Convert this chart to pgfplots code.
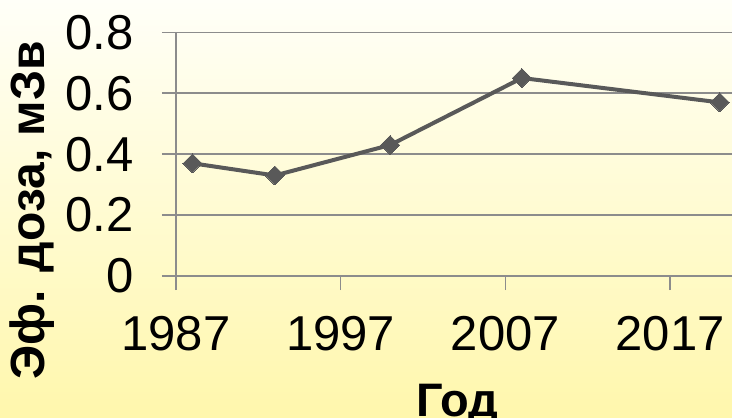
\documentclass[border=0pt]{standalone}
\usepackage{fontspec}
\setmainfont{Liberation Sans}
\usepackage{pgfplots}
\pgfplotsset{compat=1.18}
\definecolor{bgtop}{RGB}{255,255,248}
\definecolor{bgbot}{RGB}{255,247,172}
\definecolor{gridc}{RGB}{140,140,140}
\definecolor{linec}{RGB}{89,89,89}
\begin{document}
\begin{tikzpicture}
\path[use as bounding box, top color=bgtop, bottom color=bgbot] (-176pt,-142pt) rectangle (556pt,276pt);
\begin{axis}[
  scale only axis,
  width=556pt, height=243.7pt,
  xmin=1987, xmax=2020.75,
  ymin=0, ymax=0.8,
  xtick={1987,1997,2007,2017},
  ytick={0,0.2,0.4,0.6,0.8},
  xticklabels={1987,1997,2007,2017},
  yticklabels={0,0.2,0.4,0.6,0.8},
  axis x line*=bottom,
  axis y line*=left,
  axis line style={gridc, line width=1.5pt},
  ymajorgrids,
  major grid style={gridc, line width=1.5pt},
  tick style={gridc, line width=1.5pt},
  tick align=outside,
  major tick length=14pt,
  /pgf/number format/assume math mode=true,
  ticklabel style={font=\fontsize{49}{49}\selectfont, text=black},
  yticklabel style={anchor=east, xshift=-28pt, inner sep=0pt},
  xticklabel style={anchor=north, yshift=-26pt, inner sep=0pt},
  xlabel={\bfseries Год},
  ylabel={\bfseries Эф. доза, мЗв},
  xlabel style={font=\fontsize{47}{47}\selectfont, at={(axis description cs:0.506,-0.53)}, anchor=center},
  ylabel style={font=\fontsize{48}{48}\selectfont, at={(axis description cs:-0.258,0.27)}, anchor=center, rotate=0},
  clip=false,
]
\addplot[linec, line width=4pt, mark=square*, mark size=6.7pt, mark options={rotate=45, fill=linec, line width=0pt}]
  coordinates {(1988,0.37) (1993,0.33) (2000,0.43) (2008,0.65) (2020,0.57)};
\end{axis}
\end{tikzpicture}
\end{document}
